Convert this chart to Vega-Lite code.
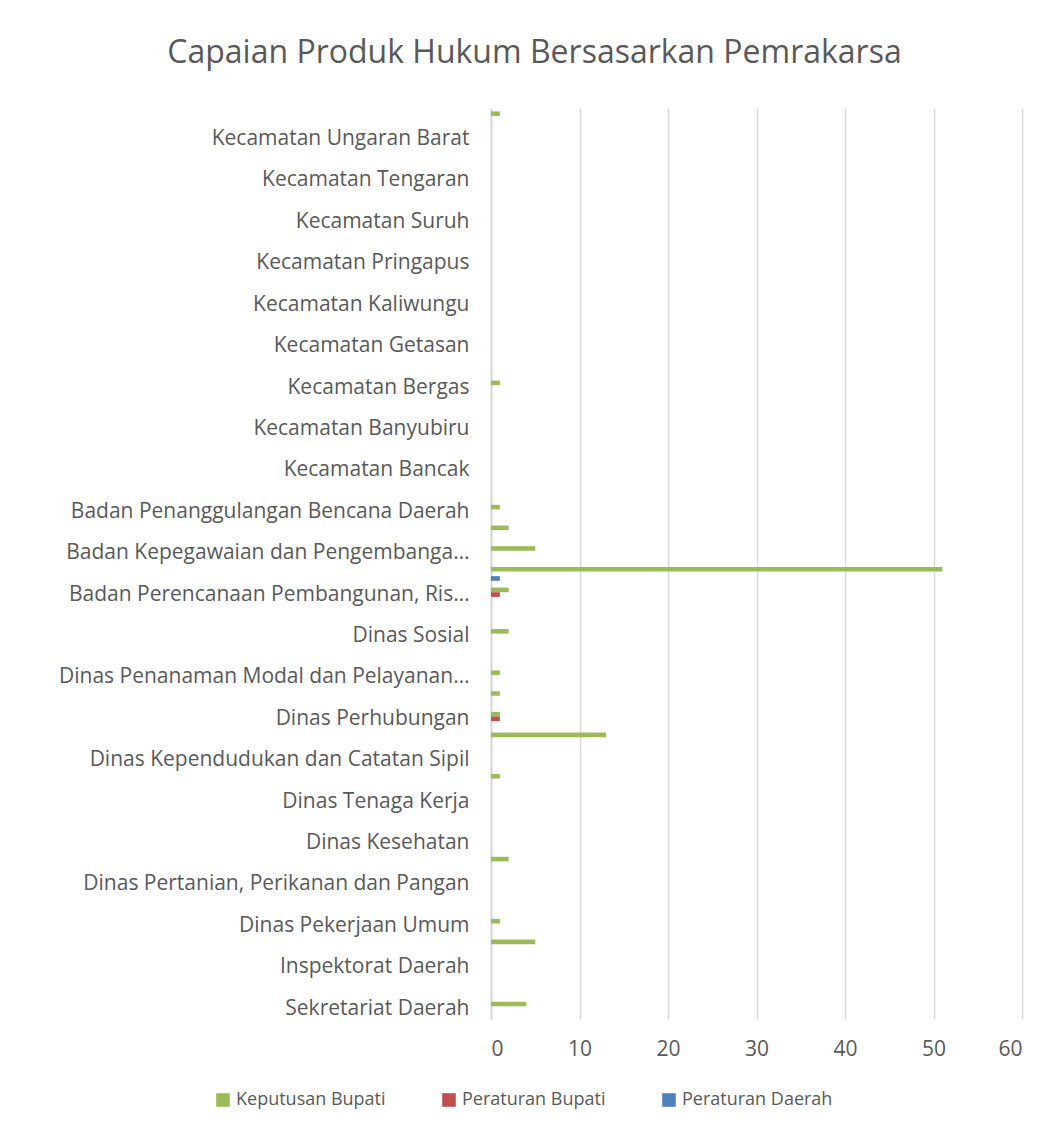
{
  "$schema": "https://vega.github.io/schema/vega-lite/v6.json",
  "autosize": "none",
  "width": 531,
  "height": 911,
  "padding": {"left": 491, "top": 108, "right": 32, "bottom": 115},
  "background": "white",
  "title": {
    "text": "Capaian Produk Hukum Bersasarkan Pemrakarsa",
    "font": "Open Sans",
    "fontSize": 32,
    "fontWeight": "normal",
    "color": "#595959",
    "anchor": "middle",
    "frame": "group",
    "dx": -222,
    "offset": 37
  },
  "data": {
    "values": [
      {"pemrakarsa": "Kecamatan Ungaran Timur", "Keputusan Bupati": 1, "Peraturan Bupati": 0, "Peraturan Daerah": 0},
      {"pemrakarsa": "Kecamatan Ungaran Barat", "Keputusan Bupati": 0, "Peraturan Bupati": 0, "Peraturan Daerah": 0},
      {"pemrakarsa": "Kecamatan Tuntang", "Keputusan Bupati": 0, "Peraturan Bupati": 0, "Peraturan Daerah": 0},
      {"pemrakarsa": "Kecamatan Tengaran", "Keputusan Bupati": 0, "Peraturan Bupati": 0, "Peraturan Daerah": 0},
      {"pemrakarsa": "Kecamatan Susukan", "Keputusan Bupati": 0, "Peraturan Bupati": 0, "Peraturan Daerah": 0},
      {"pemrakarsa": "Kecamatan Suruh", "Keputusan Bupati": 0, "Peraturan Bupati": 0, "Peraturan Daerah": 0},
      {"pemrakarsa": "Kecamatan Sumowono", "Keputusan Bupati": 0, "Peraturan Bupati": 0, "Peraturan Daerah": 0},
      {"pemrakarsa": "Kecamatan Pringapus", "Keputusan Bupati": 0, "Peraturan Bupati": 0, "Peraturan Daerah": 0},
      {"pemrakarsa": "Kecamatan Pabelan", "Keputusan Bupati": 0, "Peraturan Bupati": 0, "Peraturan Daerah": 0},
      {"pemrakarsa": "Kecamatan Kaliwungu", "Keputusan Bupati": 0, "Peraturan Bupati": 0, "Peraturan Daerah": 0},
      {"pemrakarsa": "Kecamatan Jambu", "Keputusan Bupati": 0, "Peraturan Bupati": 0, "Peraturan Daerah": 0},
      {"pemrakarsa": "Kecamatan Getasan", "Keputusan Bupati": 0, "Peraturan Bupati": 0, "Peraturan Daerah": 0},
      {"pemrakarsa": "Kecamatan Bringin", "Keputusan Bupati": 0, "Peraturan Bupati": 0, "Peraturan Daerah": 0},
      {"pemrakarsa": "Kecamatan Bergas", "Keputusan Bupati": 1, "Peraturan Bupati": 0, "Peraturan Daerah": 0},
      {"pemrakarsa": "Kecamatan Bawen", "Keputusan Bupati": 0, "Peraturan Bupati": 0, "Peraturan Daerah": 0},
      {"pemrakarsa": "Kecamatan Banyubiru", "Keputusan Bupati": 0, "Peraturan Bupati": 0, "Peraturan Daerah": 0},
      {"pemrakarsa": "Kecamatan Bandungan", "Keputusan Bupati": 0, "Peraturan Bupati": 0, "Peraturan Daerah": 0},
      {"pemrakarsa": "Kecamatan Bancak", "Keputusan Bupati": 0, "Peraturan Bupati": 0, "Peraturan Daerah": 0},
      {"pemrakarsa": "Kecamatan Ambarawa", "Keputusan Bupati": 0, "Peraturan Bupati": 0, "Peraturan Daerah": 0},
      {"pemrakarsa": "Badan Penanggulangan Bencana Daerah", "Keputusan Bupati": 1, "Peraturan Bupati": 0, "Peraturan Daerah": 0},
      {"pemrakarsa": "Badan Kesatuan Bangsa dan Politik", "Keputusan Bupati": 2, "Peraturan Bupati": 0, "Peraturan Daerah": 0},
      {"pemrakarsa": "Badan Kepegawaian dan Pengembangan Sumber Daya Manusia", "Keputusan Bupati": 5, "Peraturan Bupati": 0, "Peraturan Daerah": 0},
      {"pemrakarsa": "Badan Keuangan Daerah", "Keputusan Bupati": 51, "Peraturan Bupati": 0, "Peraturan Daerah": 1},
      {"pemrakarsa": "Badan Perencanaan Pembangunan, Riset dan Inovasi Daerah", "Keputusan Bupati": 2, "Peraturan Bupati": 1, "Peraturan Daerah": 0},
      {"pemrakarsa": "Dinas Pariwisata", "Keputusan Bupati": 0, "Peraturan Bupati": 0, "Peraturan Daerah": 0},
      {"pemrakarsa": "Dinas Sosial", "Keputusan Bupati": 2, "Peraturan Bupati": 0, "Peraturan Daerah": 0},
      {"pemrakarsa": "Dinas Perdagangan", "Keputusan Bupati": 0, "Peraturan Bupati": 0, "Peraturan Daerah": 0},
      {"pemrakarsa": "Dinas Penanaman Modal dan Pelayanan Terpadu Satu Pintu", "Keputusan Bupati": 1, "Peraturan Bupati": 0, "Peraturan Daerah": 0},
      {"pemrakarsa": "Dinas Koperasi dan Usaha Mikro", "Keputusan Bupati": 1, "Peraturan Bupati": 0, "Peraturan Daerah": 0},
      {"pemrakarsa": "Dinas Perhubungan", "Keputusan Bupati": 1, "Peraturan Bupati": 1, "Peraturan Daerah": 0},
      {"pemrakarsa": "Dinas Komunikasi dan Informatika", "Keputusan Bupati": 13, "Peraturan Bupati": 0, "Peraturan Daerah": 0},
      {"pemrakarsa": "Dinas Kependudukan dan Catatan Sipil", "Keputusan Bupati": 0, "Peraturan Bupati": 0, "Peraturan Daerah": 0},
      {"pemrakarsa": "Dinas Pemberdayaan Masyarakat dan Desa", "Keputusan Bupati": 1, "Peraturan Bupati": 0, "Peraturan Daerah": 0},
      {"pemrakarsa": "Dinas Tenaga Kerja", "Keputusan Bupati": 0, "Peraturan Bupati": 0, "Peraturan Daerah": 0},
      {"pemrakarsa": "Dinas Pengendalian Penduduk dan Keluarga Berencana", "Keputusan Bupati": 0, "Peraturan Bupati": 0, "Peraturan Daerah": 0},
      {"pemrakarsa": "Dinas Kesehatan", "Keputusan Bupati": 0, "Peraturan Bupati": 0, "Peraturan Daerah": 0},
      {"pemrakarsa": "Dinas Lingkungan Hidup", "Keputusan Bupati": 2, "Peraturan Bupati": 0, "Peraturan Daerah": 0},
      {"pemrakarsa": "Dinas Pertanian, Perikanan dan Pangan", "Keputusan Bupati": 0, "Peraturan Bupati": 0, "Peraturan Daerah": 0},
      {"pemrakarsa": "Dinas Perumahan dan Kawasan Permukiman", "Keputusan Bupati": 0, "Peraturan Bupati": 0, "Peraturan Daerah": 0},
      {"pemrakarsa": "Dinas Pekerjaan Umum", "Keputusan Bupati": 1, "Peraturan Bupati": 0, "Peraturan Daerah": 0},
      {"pemrakarsa": "Dinas Pendidikan, Kebudayaan, Kepemudaan dan Olahraga", "Keputusan Bupati": 5, "Peraturan Bupati": 0, "Peraturan Daerah": 0},
      {"pemrakarsa": "Inspektorat Daerah", "Keputusan Bupati": 0, "Peraturan Bupati": 0, "Peraturan Daerah": 0},
      {"pemrakarsa": "Sekretariat DPRD", "Keputusan Bupati": 0, "Peraturan Bupati": 0, "Peraturan Daerah": 0},
      {"pemrakarsa": "Sekretariat Daerah", "Keputusan Bupati": 4, "Peraturan Bupati": 0, "Peraturan Daerah": 0}
    ]
  },
  "transform": [
    {"fold": ["Keputusan Bupati", "Peraturan Bupati", "Peraturan Daerah"], "as": ["jenis", "jumlah"]}
  ],
  "mark": {"type": "bar"},
  "encoding": {
    "y": {
      "field": "pemrakarsa",
      "type": "nominal",
      "sort": null,
      "scale": {"paddingInner": 0.33, "paddingOuter": 0.165},
      "axis": {
        "title": null,
        "ticks": false,
        "grid": false,
        "domainColor": "#D9D9D9",
        "domainWidth": 2,
        "labelFont": "Open Sans",
        "labelFontSize": 21,
        "labelColor": "#595959",
        "labelPadding": 22,
        "labelLimit": 412,
        "labelOverlap": false,
        "labelExpr": "indexof(['Kecamatan Ungaran Barat','Kecamatan Tengaran','Kecamatan Suruh','Kecamatan Pringapus','Kecamatan Kaliwungu','Kecamatan Getasan','Kecamatan Bergas','Kecamatan Banyubiru','Kecamatan Bancak','Badan Penanggulangan Bencana Daerah','Badan Kepegawaian dan Pengembangan Sumber Daya Manusia','Badan Perencanaan Pembangunan, Riset dan Inovasi Daerah','Dinas Sosial','Dinas Penanaman Modal dan Pelayanan Terpadu Satu Pintu','Dinas Perhubungan','Dinas Kependudukan dan Catatan Sipil','Dinas Tenaga Kerja','Dinas Kesehatan','Dinas Pertanian, Perikanan dan Pangan','Dinas Pekerjaan Umum','Inspektorat Daerah','Sekretariat Daerah'], datum.value) >= 0 ? datum.label : ''"
      }
    },
    "yOffset": {
      "field": "jenis",
      "type": "nominal",
      "scale": {"domain": ["Keputusan Bupati", "Peraturan Bupati", "Peraturan Daerah"], "paddingInner": 0, "paddingOuter": 0}
    },
    "x": {
      "field": "jumlah",
      "type": "quantitative",
      "scale": {"domain": [0, 60], "nice": false},
      "axis": {
        "title": null,
        "values": [0, 10, 20, 30, 40, 50, 60],
        "ticks": false,
        "domain": false,
        "grid": true,
        "gridColor": "#D9D9D9",
        "gridWidth": 1.5,
        "labelFont": "Open Sans",
        "labelFontSize": 21,
        "labelColor": "#595959",
        "labelPadding": 19
      }
    },
    "color": {
      "field": "jenis",
      "type": "nominal",
      "scale": {"domain": ["Keputusan Bupati", "Peraturan Bupati", "Peraturan Daerah"], "range": ["#9BBB59", "#C0504D", "#4F81BD"]},
      "legend": {
        "title": null,
        "orient": "none",
        "direction": "horizontal",
        "legendX": -277,
        "legendY": 983,
        "symbolType": "square",
        "symbolSize": 185,
        "symbolStrokeWidth": 0,
        "labelFont": "Open Sans",
        "labelFontSize": 18,
        "labelColor": "#595959",
        "labelOffset": 4,
        "columnPadding": 54
      }
    }
  },
  "config": {
    "view": {"stroke": null}
  }
}
